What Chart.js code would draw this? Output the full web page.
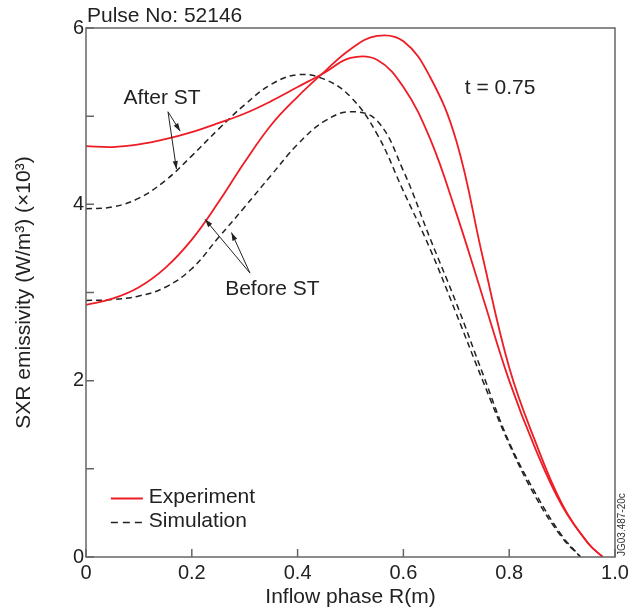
<!DOCTYPE html>
<html lang="en">
<head>
<meta charset="UTF-8">
<title>SXR emissivity</title>
<script src="https://cdn.jsdelivr.net/npm/chart.js"></script>
<style>
  html, body { margin: 0; padding: 0; background: #fff; }
  #wrap { position: relative; width: 629px; height: 614px; }
</style>
</head>
<body>
<div id="wrap"><canvas id="myChart" width="629" height="614"></canvas></div>

<script>
// inflow phase R grid, shared by all four curves
const R = [0, 0.05, 0.1, 0.15, 0.2, 0.25, 0.3, 0.35, 0.4, 0.45, 0.5, 0.55, 0.6, 0.65, 0.7, 0.75, 0.8, 0.85, 0.9, 0.95]
// experiment, after ST (starts high, lower peak) -> ends at R = 0.977
const expAfterV = [4.66, 4.65, 4.68, 4.74, 4.82, 4.92, 5.03, 5.17, 5.33, 5.49, 5.66, 5.64, 5.33, 4.75, 3.9, 2.95, 2.0, 1.22, 0.58, 0.15]
// experiment, before ST (starts low, higher peak) -> ends at R = 0.977
const expBeforeV = [2.86, 2.93, 3.06, 3.28, 3.6, 4.02, 4.48, 4.9, 5.22, 5.5, 5.76, 5.91, 5.85, 5.45, 4.72, 3.4, 2.15, 1.3, 0.6, 0.15]
const expEndR = 0.977
// simulation, after ST -> ends at R = 0.935
const simAfterV = [3.95, 3.97, 4.07, 4.27, 4.55, 4.85, 5.13, 5.36, 5.47, 5.42, 5.22, 4.8, 4.15, 3.5, 2.76, 2.0, 1.28, 0.68, 0.22]
// simulation, before ST -> ends at R = 0.935
const simBeforeV = [2.91, 2.92, 2.96, 3.06, 3.27, 3.62, 3.97, 4.33, 4.68, 4.94, 5.05, 4.95, 4.38, 3.62, 2.88, 2.08, 1.3, 0.72, 0.24]
const simEndR = 0.935

const xTicks = [0, 0.2, 0.4, 0.6, 0.8, 1.0]
const yTicks = [0, 1, 2, 3, 4, 5, 6]
const yLabels = [0, 2, 4, 6]

const FONT = '"Liberation Sans", Arial, Helvetica, sans-serif'
const RED = '#ee1c25'
const AXIS = '#666'

// points on the R grid, closed with the zero crossing
const pts = (ys, endR) => ys.map((y, i) => ({ x: R[i], y: y })).concat([{ x: endR, y: 0 }])

function line(label, data, color, dash, w) {
  return {
    label: label,
    data: data,
    showLine: true,
    borderColor: color,
    borderWidth: w,
    borderDash: dash,
    pointRadius: 0,
    fill: false,
    tension: 0.4
  }
}

function arrow(ctx, x1, y1, x2, y2) {
  const a = Math.atan2(y2 - y1, x2 - x1)
  ctx.beginPath()
  ctx.moveTo(x1, y1)
  ctx.lineTo(x2, y2)
  ctx.stroke()
  const L = 8, W = 2.6
  ctx.beginPath()
  ctx.moveTo(x2, y2)
  ctx.lineTo(x2 - L * Math.cos(a) + W * Math.sin(a), y2 - L * Math.sin(a) - W * Math.cos(a))
  ctx.lineTo(x2 - L * Math.cos(a) - W * Math.sin(a), y2 - L * Math.sin(a) + W * Math.cos(a))
  ctx.closePath()
  ctx.fill()
}

const decor = {
  id: 'decor',
  afterDraw(chart) {
    const ctx = chart.ctx
    const a = chart.chartArea
    const sx = chart.scales.x, sy = chart.scales.y
    ctx.save()
    // frame
    ctx.strokeStyle = AXIS
    ctx.lineWidth = 1.5
    ctx.strokeRect(a.left, a.top, a.right - a.left, a.bottom - a.top)
    // inward ticks
    ctx.beginPath()
    xTicks.forEach(t => {
      const px = sx.getPixelForValue(t)
      ctx.moveTo(px, a.bottom)
      ctx.lineTo(px, a.bottom - 8)
    })
    yTicks.forEach(t => {
      const py = sy.getPixelForValue(t)
      ctx.moveTo(a.left, py)
      ctx.lineTo(a.left + 8, py)
    })
    ctx.stroke()

    // texts
    ctx.fillStyle = '#222'
    ctx.font = '21px ' + FONT
    ctx.textBaseline = 'middle'
    ctx.textAlign = 'left'
    ctx.fillText('Pulse No: 52146', 87, 16)
    ctx.fillText('t = 0.75', sx.getPixelForValue(0.716), sy.getPixelForValue(5.32))
    ctx.fillText('After ST', sx.getPixelForValue(0.071), sy.getPixelForValue(5.2))
    ctx.fillText('Before ST', sx.getPixelForValue(0.263), sy.getPixelForValue(3.04))

    // legend
    const lx = sx.getPixelForValue(0.047)
    ctx.lineWidth = 2
    ctx.strokeStyle = RED
    ctx.beginPath()
    ctx.moveTo(lx, 498.5); ctx.lineTo(lx + 32, 498.5)
    ctx.stroke()
    ctx.strokeStyle = '#222'
    ctx.lineWidth = 1.6
    ctx.setLineDash([7, 5])
    ctx.beginPath()
    ctx.moveTo(lx, 522.5); ctx.lineTo(lx + 32, 522.5)
    ctx.stroke()
    ctx.setLineDash([])
    ctx.fillText('Experiment', lx + 38, 497)
    ctx.fillText('Simulation', lx + 38, 521)

    // arrows
    ctx.strokeStyle = '#222'
    ctx.fillStyle = '#222'
    ctx.lineWidth = 1
    const P = (x, y) => [sx.getPixelForValue(x), sy.getPixelForValue(y)]
    const s1 = P(0.155, 5.05)
    arrow(ctx, ...s1, ...P(0.178, 4.83))
    arrow(ctx, ...s1, ...P(0.171, 4.4))
    const s2 = P(0.31, 3.22)
    arrow(ctx, ...s2, ...P(0.225, 3.83))
    arrow(ctx, ...s2, ...P(0.275, 3.68))

    // figure id
    ctx.save()
    ctx.translate(622, 556)
    ctx.rotate(-Math.PI / 2)
    ctx.font = '10px ' + FONT
    ctx.textAlign = 'left'
    ctx.fillStyle = '#333'
    ctx.fillText('JG03.487-20c', 0, 0)
    ctx.restore()
    ctx.restore()
  }
}

const ctx = document.getElementById('myChart')
const myChart = new Chart(ctx, {
  type: 'scatter',
  data: {
    datasets: [
      line('Experiment', pts(expAfterV, expEndR), RED, [], 1.8),
      line('Experiment', pts(expBeforeV, expEndR), RED, [], 1.8),
      line('Simulation', pts(simAfterV, simEndR), '#222', [6, 4], 1.5),
      line('Simulation', pts(simBeforeV, simEndR), '#222', [6, 4], 1.5)
    ]
  },
  options: {
    responsive: false,
    animation: false,
    layout: { padding: { top: 28, right: 14, left: 0, bottom: 0 } },
    plugins: { legend: { display: false }, tooltip: { enabled: false } },
    scales: {
      x: {
        type: 'linear', min: 0, max: 1,
        afterBuildTicks: s => { s.ticks = xTicks.map(v => ({ value: v })) },
        afterFit: s => { s.height = 57; s.paddingLeft = 0; s.paddingRight = 0 },
        grid: { display: false, drawTicks: false },
        border: { display: false },
        ticks: {
          color: '#222', padding: 4, maxRotation: 0,
          font: { family: FONT, size: 20 },
          callback: v => v === 0 ? '0' : v.toFixed(1)
        },
        title: {
          display: true, text: 'Inflow phase R(m)', color: '#222',
          font: { family: FONT, size: 21 }, padding: { top: 0, bottom: 4 }
        }
      },
      y: {
        type: 'linear', min: 0, max: 6,
        afterBuildTicks: s => { s.ticks = yLabels.map(v => ({ value: v })) },
        afterFit: s => { s.width = 86 },
        grid: { display: false, drawTicks: false },
        border: { display: false },
        ticks: {
          color: '#222', padding: 2,
          font: { family: FONT, size: 20 }
        },
        title: {
          display: true, text: 'SXR emissivity (W/m³) (×10³)', color: '#222',
          font: { family: FONT, size: 21 }, padding: { top: 12, bottom: 0 }
        }
      }
    }
  },
  plugins: [decor]
})
</script>
</body>
</html>
